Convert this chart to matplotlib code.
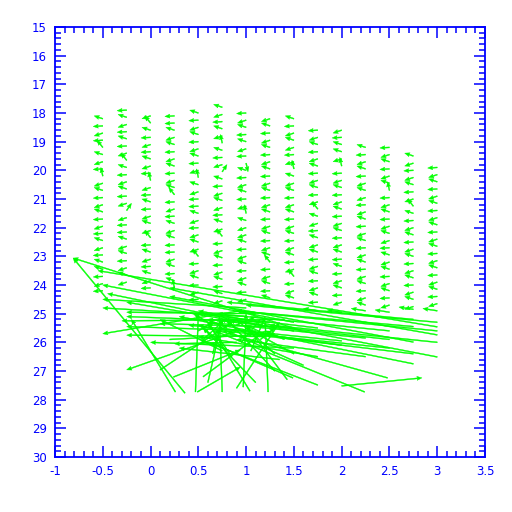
import matplotlib
matplotlib.use("Agg")
import matplotlib.pyplot as plt
import numpy as np

BLUE = '#0000ff'
GREEN = '#00ff00'

# small arrows: one column per x, rows every 0.25 starting at col_top
col_x = [-0.5, -0.25, 0.0, 0.25, 0.5, 0.75, 1.0, 1.25, 1.5, 1.75, 2.0, 2.25, 2.5, 2.75, 3.0]
col_top = [18.2, 17.9, 18.1, 18.1, 18.0, 17.8, 18.0, 18.2, 18.2, 18.6, 18.6, 19.2, 19.2, 19.5, 19.9]
row_step = 0.25
# direction (see codes below)
col_dirs = [
    "albleablubalbalblablaalbl",
    "lablalbealbalbfbllabalbab",
    "bealblablublalbabelablabl",
    "llabalbalbaelblaballbalau",
    "albalbalbuabllablbabelbalbl",
    "ablabualbfalbablabelbalbalab",
    "lbalabldalbalbuabbalbalbalb",
    "balbalbalbalbalbalbaelbala",
    "albablbuabalbalbalbalbelba",
    "lbalbalbalbeablabalbalbal",
    "blaabulbalbalbalbalalbalb",
    "albalbablbalbalbalbalba",
    "lbalbaulbalbablabalbalb",
    "ablbalbealbalbalbalbab",
    "lbalbalbalbalbalbalb",
]
dir_codes = {
    'l': (-0.1, 0.02), 'a': (-0.09, -0.1), 'b': (-0.09, 0.1),
    'u': (-0.02, -0.3), 'd': (0.02, 0.3), 'e': (-0.06, -0.25),
    'f': (0.05, -0.25), 'g': (0.05, 0.25), 'r': (0.1, 0.0),
}

# large vectors near the bottom (tail -> head)
tail_x = [0.36, 1.56, 3.0, 3.0, 2.75, 3.0, 2.75, 2.48, 2.24, 1.75, 1.49, 2.0,
          1.5, 1.3, 1.5, 1.0, 1.25, 0.93, 1.2, 1.4, 1.1, 0.93, 0.26, 0.49, 0.24,
          0.47, 0.75, 1.23, 0.97, 0.6, 1.43, 1.04, 0.1, 0.9, 1.1, 0.55, 1.3,
          3.0, 2.75, 2.5, 2.25, 2.0, 2.5, 3.0, 1.75, 1.6, 1.5, 0.2,
          1.0, 1.1, 1.2, 0.9, 0.75, 1.5, 1.35,
          0.6, 0.8, 1.0, 1.25, 0.7, 1.4, 0.9, 1.15, 0.5,
          1.75, 2.0, 2.25, 2.5, 2.75, 3.0,
          2.75, 3.0, 2.5, 2.75, 2.25, 2.0, 1.75,
          0.65, 0.85, 1.05, 1.3, 0.55, 0.95]
tail_y = [27.77, 25.57, 25.46, 25.74, 25.99, 26.51, 26.75, 27.24, 27.73, 27.49, 27.24, 27.52,
          25.3, 25.5, 25.6, 25.1, 25.3, 24.9, 25.45, 25.2, 25.6, 25.57, 27.73, 27.73, 27.21,
          27.73, 27.73, 27.73, 27.56, 27.4, 27.3, 27.7, 26.96, 27.6, 27.4, 27.2, 27.0,
          25.3, 25.45, 25.6, 25.85, 25.95, 26.2, 26.0, 26.5, 26.8, 26.4, 25.9,
          24.8, 25.0, 25.8, 26.0, 26.3, 26.2, 26.6,
          25.3, 25.5, 25.7, 25.8, 25.9, 25.9, 25.4, 25.9, 25.6,
          24.9, 24.95, 24.9, 24.95, 24.85, 24.9,
          25.2, 25.6, 25.9, 26.4, 26.5, 26.1, 25.5,
          26.4, 26.5, 26.3, 26.4, 25.9, 26.0]
head_x = [-0.81, -0.81, -0.55, 0.2, 0.2, 0.5, 0.3, 0.5, 0.67, 0.52, 0.62, 2.84,
          -0.5, -0.45, -0.25, -0.5, -0.25, -0.5, 0.1, -0.3, -0.25, -0.25, -0.2, 0.94, 0.94,
          0.5, 0.72, 1.2, 1.0, 0.75, 1.0, 0.6, 0.9, 1.35, 0.55, 1.2, 0.8,
          1.0, 0.9, 0.7, 0.6, 0.4, 0.75, 1.25, 0.5, 0.8, 1.0, 1.3,
          -0.5, -0.25, -0.25, 0.25, 0.1, 0.0, 0.3,
          0.45, 0.6, 0.8, 1.0, 0.55, 1.2, 1.1, 1.3, 0.65,
          1.6, 1.85, 2.1, 2.35, 2.6, 2.85,
          0.8, 0.9, 0.6, 1.0, 0.9, 0.7, 0.5,
          0.75, 0.6, 1.2, 0.9, 0.8, 1.15]
head_y = [23.06, 23.06, 23.5, 24.1, 24.4, 24.9, 25.1, 25.4, 25.6, 25.9, 26.0, 27.24,
          24.0, 24.3, 24.6, 24.8, 25.1, 25.7, 25.35, 25.25, 25.45, 26.96, 25.2, 26.86, 26.27,
          25.0, 25.1, 25.3, 25.0, 25.2, 25.4, 25.3, 25.2, 25.3, 25.5, 25.6, 25.2,
          24.7, 24.9, 25.0, 25.3, 25.4, 25.6, 25.4, 25.8, 25.6, 25.5, 25.7,
          24.5, 24.95, 25.75, 26.05, 25.2, 26.0, 26.2,
          25.0, 25.2, 25.3, 25.4, 25.5, 25.6, 25.1, 25.5, 25.3,
          24.82, 24.87, 24.82, 24.87, 24.77, 24.82,
          24.6, 24.9, 25.2, 25.7, 25.9, 25.5, 25.0,
          25.2, 25.3, 25.1, 25.2, 25.15, 25.2]


def small_arrows():
    xs, ys, us, vs = [], [], [], []
    for x, top, dirs in zip(col_x, col_top, col_dirs):
        for i, c in enumerate(dirs):
            u, v = dir_codes[c]
            xs.append(x)
            ys.append(top + row_step * i)
            us.append(u)
            vs.append(v)
    return np.array(xs), np.array(ys), np.array(us), np.array(vs)


fig = plt.figure(figsize=(5.12, 5.12), dpi=100)
ax = fig.add_axes([55/512, 55/512, 430/512, 430/512])

qkw = dict(angles='xy', scale_units='xy', scale=1, units='dots', width=1.0,
           headwidth=4, headlength=5, headaxislength=4.5, minshaft=0.5,
           minlength=0.5, color=GREEN, edgecolor=GREEN, linewidth=0.3)

sx, sy, su, sv = small_arrows()
ax.quiver(sx, sy, su, sv, **qkw)

tx, ty = np.array(tail_x), np.array(tail_y)
ax.quiver(tx, ty, np.array(head_x) - tx, np.array(head_y) - ty, **qkw)

ax.set_xlim(-1, 3.5)
ax.set_ylim(30, 15)
ax.set_xticks(np.arange(-1, 3.51, 0.5))
ax.set_xticklabels(['-1', '-0.5', '0', '0.5', '1', '1.5', '2', '2.5', '3', '3.5'])
ax.set_yticks(np.arange(15, 31, 1))
ax.set_xticks(np.arange(-1, 3.51, 0.1), minor=True)
ax.set_yticks(np.arange(15, 30.01, 0.2), minor=True)

for s in ax.spines.values():
    s.set_color(BLUE)
    s.set_linewidth(1.3)
ax.tick_params(which='both', direction='in', top=True, right=True, color=BLUE,
               labelcolor=BLUE, labelsize=8.5, width=1.1)
ax.tick_params(which='major', length=8, pad=6)
ax.tick_params(which='minor', length=4)

fig.savefig('out.png', dpi=100)
